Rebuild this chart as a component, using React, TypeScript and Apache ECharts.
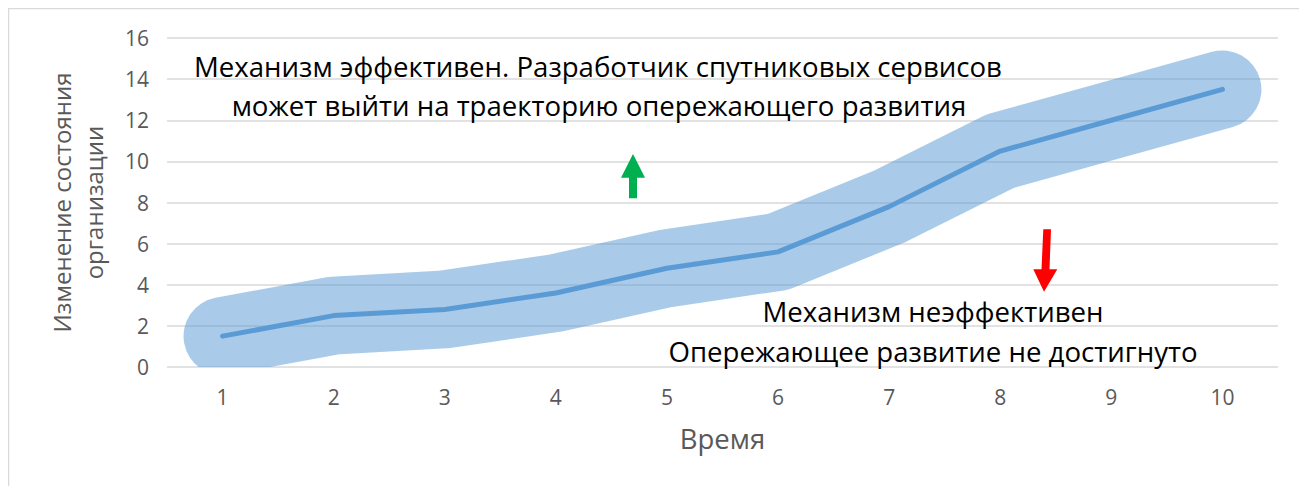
import React, { useEffect, useRef } from "react";
import * as echarts from "echarts";

const categories = ["1", "2", "3", "4", "5", "6", "7", "8", "9", "10"];
const lineValues = [1.5, 2.5, 2.8, 3.6, 4.8, 5.6, 7.8, 10.5, 12.0, 13.5];
const bandValues = [1.5, 2.5, 2.8, 3.6, 4.8, 5.6, 7.8, 10.5, 12.0, 13.5];
const yTicks = { min: 0, max: 16, interval: 2 };
const yName = "Изменение состояния\nорганизации";
const xName = "Время";
const upperText1 = "Механизм эффективен. Разработчик спутниковых сервисов";
const upperText2 = "может выйти на траекторию опережающего развития";
const lowerText1 = "Механизм неэффективен";
const lowerText2 = "Опережающее развитие не достигнуто";

const FONT = "'Open Sans', 'Noto Sans', sans-serif";
const ANN_SIZE = 27.6;

export default function App() {
  const ref = useRef<HTMLDivElement>(null);
  useEffect(() => {
    if (!ref.current) return;
    const chart = echarts.init(ref.current, undefined, { renderer: "svg" });
    const option: any = {
      animation: false,
      backgroundColor: "#ffffff",
      textStyle: { fontFamily: FONT },
      grid: { left: 159, right: 29, top: 30, bottom: 119, containLabel: false },
      xAxis: {
        type: "category",
        data: categories,
        boundaryGap: true,
        axisLine: { show: false },
        axisTick: { show: false },
        axisLabel: { color: "#595959", fontSize: 21, margin: 19, fontFamily: FONT },
        splitLine: { show: false },
        name: xName,
        nameLocation: "middle",
        nameGap: 57,
        nameTextStyle: { color: "#595959", fontSize: 27.5, fontFamily: FONT },
      },
      yAxis: {
        type: "value",
        min: yTicks.min,
        max: yTicks.max,
        interval: yTicks.interval,
        axisLine: { show: false },
        axisTick: { show: false },
        axisLabel: { color: "#595959", fontSize: 21, margin: 18, fontFamily: FONT },
        splitLine: { show: true, lineStyle: { color: "#d9d9d9", width: 1.5 } },
        name: yName,
        nameLocation: "middle",
        nameGap: 58,
        nameTextStyle: { color: "#595959", fontSize: 24, lineHeight: 32, fontFamily: FONT, align: "center" },
      },
      series: [
        {
          type: "custom",
          name: "band",
          clip: true,
          z: 1,
          data: bandValues.map((v, i) => [i, v]),
          encode: { x: 0, y: 1 },
          renderItem: (params: any, api: any) => {
            if (params.dataIndex !== 0) return null;
            const pts = bandValues.map((v, i) => api.coord([i, v]));
            return {
              type: "polyline",
              shape: { points: pts },
              style: {
                stroke: "rgba(91,155,213,0.52)",
                fill: "none",
                lineWidth: 78,
                lineCap: "round",
                lineJoin: "round",
              },
            };
          },
        },
        {
          type: "line",
          name: "line",
          z: 3,
          data: lineValues,
          showSymbol: false,
          symbol: "none",
          lineStyle: { color: "#5b9bd5", width: 5, cap: "round", join: "round" },
        },
      ],
      graphic: [
        { type: "line", shape: { x1: 0.5, y1: 0, x2: 0.5, y2: 478 }, style: { stroke: "#d9d9d9", lineWidth: 1.5 }, silent: true },
        { type: "line", shape: { x1: 0, y1: 0.5, x2: 1299, y2: 0.5 }, style: { stroke: "#d9d9d9", lineWidth: 1.5 }, silent: true },
        {
          type: "text", x: 590, y: 58, z: 10,
          style: { text: upperText1, fill: "#000", fontSize: ANN_SIZE, fontFamily: FONT, align: "center", verticalAlign: "middle" },
        },
        {
          type: "text", x: 591, y: 97, z: 10,
          style: { text: upperText2, fill: "#000", fontSize: ANN_SIZE, fontFamily: FONT, align: "center", verticalAlign: "middle" },
        },
        {
          type: "text", x: 925, y: 303, z: 10,
          style: { text: lowerText1, fill: "#000", fontSize: ANN_SIZE, fontFamily: FONT, align: "center", verticalAlign: "middle" },
        },
        {
          type: "text", x: 925, y: 343, z: 10,
          style: { text: lowerText2, fill: "#000", fontSize: ANN_SIZE, fontFamily: FONT, align: "center", verticalAlign: "middle" },
        },
        {
          type: "polygon", z: 10,
          shape: { points: [[621, 190.3], [621, 169.7], [613, 169.7], [625, 146], [637, 169.7], [629, 169.7], [629, 190.3]] },
          style: { fill: "#00b050" },
        },
        {
          type: "polygon", z: 10,
          shape: { points: [[1035.3, 221.3], [1043, 221.3], [1041.5, 261.3], [1049.3, 261.3], [1036, 283.7], [1025.3, 261.3], [1033.5, 261.3]] },
          style: { fill: "#ff0000" },
        },
      ],
    };
    chart.setOption(option);
    return () => chart.dispose();
  }, []);
  return <div ref={ref} style={{ width: 1299, height: 478 }} />;
}
